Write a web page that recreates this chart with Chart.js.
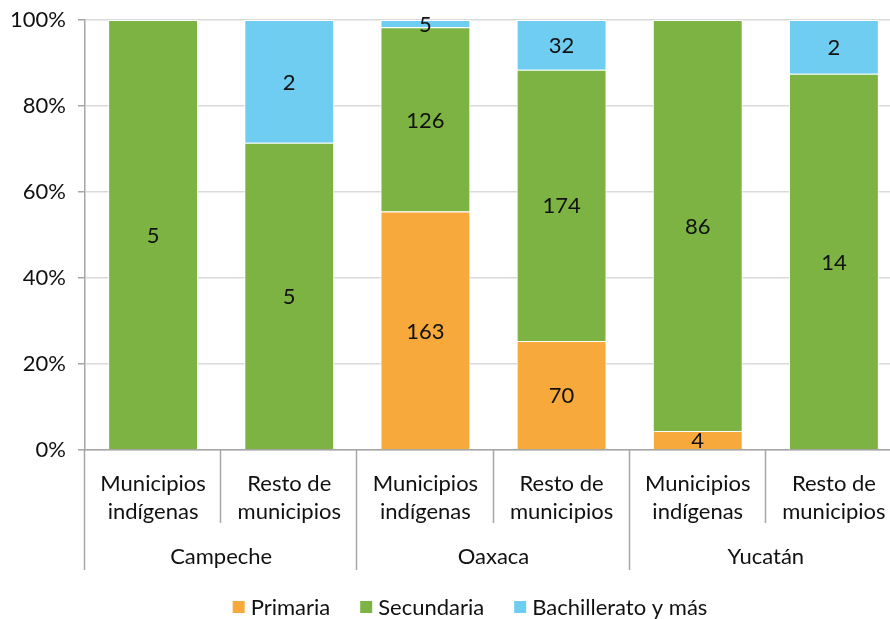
<!DOCTYPE html>
<html><head><meta charset="utf-8">
<script src="https://cdn.jsdelivr.net/npm/chart.js@4.4.1/dist/chart.umd.min.js"></script>
<style>
html,body{margin:0;padding:0;background:#fff;overflow:hidden;}
#wrap{position:relative;width:902px;height:619px;}
</style></head>
<body><div id="wrap"><canvas id="c"></canvas></div>
<script>
const categories = [["Municipios","indígenas"],["Resto de","municipios"],["Municipios","indígenas"],["Resto de","municipios"],["Municipios","indígenas"],["Resto de","municipios"]];
const groups = ["Campeche","Oaxaca","Yucatán"];
const seriesNames = ["Primaria","Secundaria","Bachillerato y más"];
const primaria = [0, 0, 163, 70, 4, 0];
const secundaria = [5, 5, 126, 174, 86, 14];
const bachillerato = [0, 2, 5, 32, 0, 2];
const yTicks = [0,20,40,60,80,100];
const colors = ["#F7A93C","#7CB342","#6ECDF0"];

const counts = [primaria, secundaria, bachillerato];
const totals = primaria.map((_, i) => primaria[i] + secundaria[i] + bachillerato[i]);
const pct = arr => arr.map((v, i) => totals[i] ? v / totals[i] * 100 : 0);

const FONT = "Lato, 'Open Sans', sans-serif";
const FS = 22;

const overlay = {
  id: 'overlay',
  afterDatasetsDraw(chart) {
    const ctx = chart.ctx;
    ctx.save();
    ctx.font = FS + "px " + FONT;
    ctx.fillStyle = "#111";
    ctx.textAlign = "center";
    ctx.textBaseline = "middle";
    chart.data.datasets.forEach((ds, di) => {
      const meta = chart.getDatasetMeta(di);
      meta.data.forEach((bar, i) => {
        const v = counts[di][i];
        if (!v) return;
        const yc = (bar.y + bar.base) / 2;
        ctx.fillText(String(v), bar.x, yc + 1);
      });
    });
    ctx.restore();
  },
  afterDraw(chart) {
    const ctx = chart.ctx;
    const xs = chart.scales.x;
    const area = chart.chartArea;
    const step = xs.getPixelForValue(1) - xs.getPixelForValue(0);
    ctx.save();
    ctx.strokeStyle = "#a6a6a6";
    ctx.lineWidth = 1.5;
    for (let i = 0; i <= categories.length; i++) {
      const x = Math.round(xs.getPixelForValue(0) - step / 2 + i * step) - 0.5;
      const long = i % 2 === 0;
      ctx.beginPath();
      ctx.moveTo(x, area.bottom);
      ctx.lineTo(x, long ? 570 : 523);
      ctx.stroke();
    }
    ctx.font = FS + "px " + FONT;
    ctx.fillStyle = "#111";
    ctx.textAlign = "center";
    ctx.textBaseline = "middle";
    groups.forEach((g, gi) => {
      const x = (xs.getPixelForValue(gi * 2) + xs.getPixelForValue(gi * 2 + 1)) / 2;
      ctx.fillText(g, x, 557);
    });
    const sq = 12, gapSq = 6, gapItem = 30;
    const widths = seriesNames.map(n => ctx.measureText(n).width);
    const total = widths.reduce((a, w) => a + sq + gapSq + w, 0) + gapItem * (seriesNames.length - 1);
    let x = 470 - total / 2;
    ctx.textAlign = "left";
    seriesNames.forEach((n, i) => {
      ctx.fillStyle = colors[i];
      ctx.fillRect(x, 601, sq, sq);
      x += sq + gapSq;
      ctx.fillStyle = "#111";
      ctx.fillText(n, x, 608);
      x += widths[i] + gapItem;
    });
    ctx.restore();
  }
};

new Chart(document.getElementById('c'), {
  type: 'bar',
  data: {
    labels: categories,
    datasets: counts.map((arr, i) => ({
      label: seriesNames[i],
      data: pct(arr),
      backgroundColor: colors[i],
      borderColor: "#ffffff",
      borderWidth: 1,
      barPercentage: 0.66,
      categoryPercentage: 1.0
    }))
  },
  options: {
    responsive: true,
    maintainAspectRatio: false,
    animation: false,
    devicePixelRatio: 1,
    layout: { padding: { top: 20, left: 0, right: 0, bottom: 0 } },
    plugins: { legend: { display: false }, tooltip: { enabled: false } },
    scales: {
      x: {
        stacked: true,
        grid: { display: false },
        border: { display: true, color: "#a6a6a6", width: 1.5 },
        ticks: { color: "#111", font: { family: FONT, size: FS, lineHeight: 1.27 }, padding: 12, maxRotation: 0, autoSkip: false },
        afterFit(s) { s.height = 169; s.paddingLeft = 0; s.paddingRight = 0; }
      },
      y: {
        stacked: true,
        min: 0, max: 100,
        afterBuildTicks(s) { s.ticks = yTicks.map(v => ({ value: v })); },
        grid: { color: "#d9d9d9", lineWidth: 1.5, tickLength: 7, tickColor: "#a6a6a6" },
        border: { display: true, color: "#a6a6a6", width: 1.5 },
        ticks: { color: "#111", font: { family: FONT, size: FS }, padding: 12, callback: v => v + "%" },
        afterFit(s) { s.width = 85; s.paddingTop = 0; s.paddingBottom = 0; }
      }
    }
  },
  plugins: [overlay]
});
</script></body></html>
